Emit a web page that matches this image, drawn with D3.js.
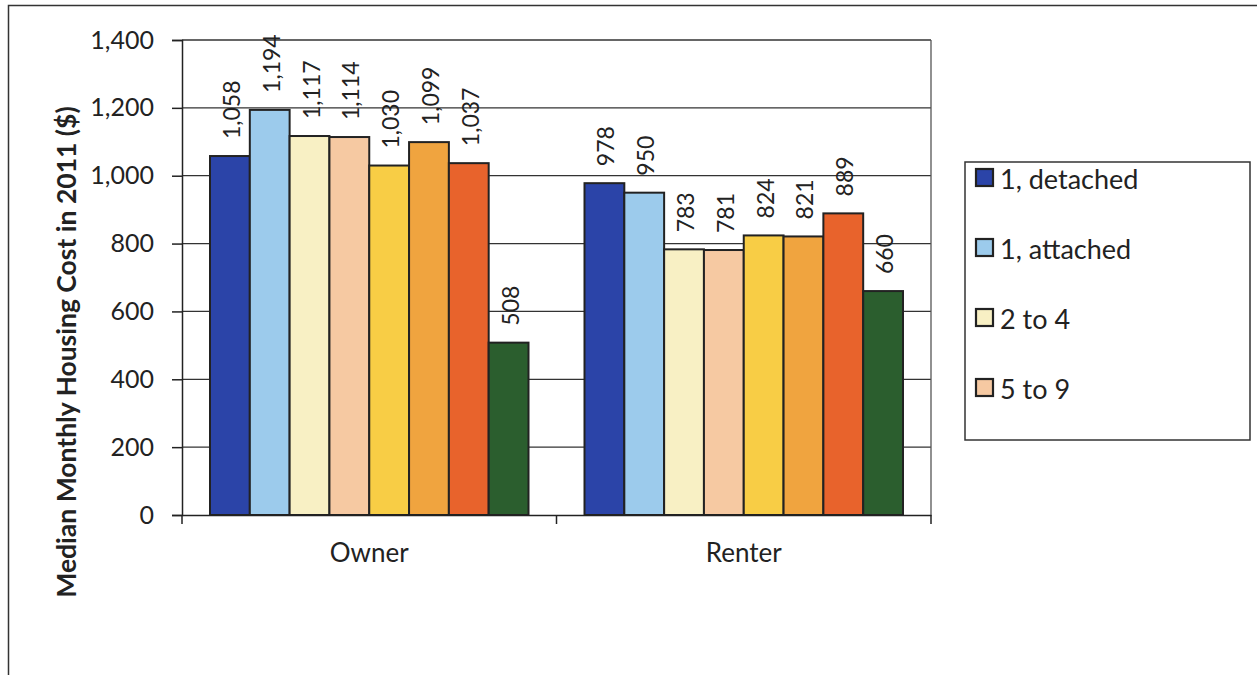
<!DOCTYPE html>
<html><head><meta charset="utf-8">
<script src="https://cdn.jsdelivr.net/npm/d3@7"></script>
<style>body{margin:0;background:#fff}svg{display:block}text{font-family:Lato,"Open Sans",sans-serif;fill:#222}</style>
</head><body><svg id="c" width="1257" height="675"></svg>
<script>
const categories = ["Owner", "Renter"];
const seriesNames = ["1, detached", "1, attached", "2 to 4", "5 to 9", "10 to 19", "20 to 49", "50 or more", "Mobile home"];
const ownerValues = [1058, 1194, 1117, 1114, 1030, 1099, 1037, 508];
const renterValues = [978, 950, 783, 781, 824, 821, 889, 660];
const seriesColors = ["#2b44a8", "#9ccbec", "#f8f0c4", "#f6c9a2", "#f8cd45", "#f0a43f", "#e8632c", "#2b5e2e"];
const yTicks = [0, 200, 400, 600, 800, 1000, 1200, 1400];
const legendShown = 4;

const values = [ownerValues, renterValues];
const svg = d3.select("#c");
const fmt = d3.format(",");

// outer frame
svg.append("path").attr("d","M8.5,675 V5.5 H1257").attr("fill","none").attr("stroke","#333").attr("stroke-width",1.5);

const L=182, R=931, T=40, B=515;
const x0 = d3.scaleBand().domain(categories).range([L,R]).paddingInner(0).paddingOuter(0);
const x1 = d3.scaleBand().domain(seriesNames.map((d,i)=>i)).range([28, x0.bandwidth()-28]).padding(0);
const y = d3.scaleLinear().domain([0,1400]).range([B,T]);

// gridlines
svg.append("g").selectAll("line").data(yTicks.filter(d=>d>0)).join("line")
  .attr("x1",L).attr("x2",R).attr("y1",d=>y(d)).attr("y2",d=>y(d))
  .attr("stroke","#333").attr("stroke-width",1.3);
// right border
svg.append("line").attr("x1",R).attr("x2",R).attr("y1",T).attr("y2",B).attr("stroke","#555").attr("stroke-width",1.3);

// y axis
const ya = svg.append("g").attr("transform",`translate(${L},0)`)
  .call(d3.axisLeft(y).tickValues(yTicks).tickFormat(fmt).tickSize(10).tickPadding(18));
ya.select(".domain").attr("stroke","#222").attr("stroke-width",1.5);
ya.selectAll(".tick line").attr("stroke","#222").attr("stroke-width",1.5);
ya.selectAll(".tick text").style("font-size","25px").attr("fill","#222").attr("font-family","Lato,'Open Sans',sans-serif");

// bars
const g = svg.append("g");
categories.forEach((c,ci)=>{
  const vals = values[ci];
  const grp = g.append("g").attr("transform",`translate(${x0(c)},0)`);
  grp.selectAll("rect").data(vals).join("rect")
    .attr("x",(d,i)=>x1(i)).attr("width",x1.bandwidth())
    .attr("y",d=>y(d)).attr("height",d=>B-y(d))
    .attr("fill",(d,i)=>seriesColors[i]).attr("stroke","#222").attr("stroke-width",2);
  grp.selectAll("text").data(vals).join("text")
    .attr("transform",(d,i)=>`translate(${x1(i)+x1.bandwidth()/2+1},${y(d)-17}) rotate(-90)`)
    .attr("dominant-baseline","central")
    .style("font-size","23px").text(d=>fmt(d));
});

// x axis
const xa = svg.append("g").attr("transform",`translate(0,${B})`)
  .call(d3.axisBottom(x0).tickSize(0).tickPadding(29));
xa.select(".domain").attr("stroke","#222").attr("stroke-width",1.5);
xa.selectAll(".tick text").style("font-size","26px").attr("fill","#222").attr("font-family","Lato,'Open Sans',sans-serif");
svg.append("g").selectAll("line").data([L, x0("Renter"), R]).join("line")
  .attr("x1",d=>d).attr("x2",d=>d).attr("y1",B).attr("y2",B+9).attr("stroke","#222").attr("stroke-width",1.5);

// y title
svg.append("text").attr("transform","translate(66,352) rotate(-90)")
  .attr("text-anchor","middle").attr("dominant-baseline","central")
  .style("font-size","26.5px").style("font-weight","bold")
  .text("Median Monthly Housing Cost in 2011 ($)");

// legend
const lg = svg.append("g");
lg.append("rect").attr("x",965).attr("y",162).attr("width",285).attr("height",278)
  .attr("fill","#fff").attr("stroke","#333").attr("stroke-width",1.5);
const items = lg.selectAll("g.it").data(seriesNames.slice(0,legendShown)).join("g").attr("class","it")
  .attr("transform",(d,i)=>`translate(976,${178+i*70})`);
items.append("rect").attr("x",0).attr("y",-9).attr("width",17).attr("height",17)
  .attr("fill",(d,i)=>seriesColors[i]).attr("stroke","#222").attr("stroke-width",2.2);
items.append("text").attr("x",24).attr("dominant-baseline","central").style("font-size","27px").text(d=>d);
</script></body></html>
